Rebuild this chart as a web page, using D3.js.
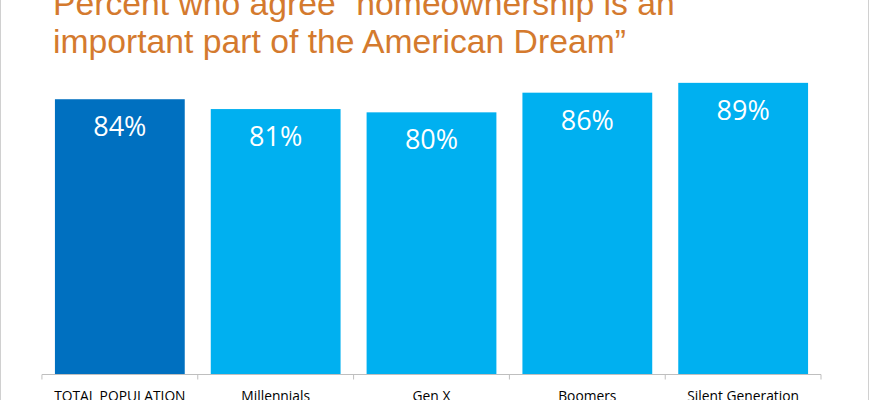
<!DOCTYPE html>
<html>
<head>
<meta charset="utf-8">
<script src="https://cdn.jsdelivr.net/npm/d3@7"></script>
<style>
    body { margin: 0; background: #fff; }
    svg { display: block; }
</style>
</head>
<body>
<div id="draw"><svg></svg></div>
<script>
var w = 870;    // svg宽
var h = 400;    // svg高

var titleLines = ["Percent who agree \u201chomeownership is an", "important part of the American Dream\u201d"];
var categories = ["TOTAL POPULATION", "Millennials", "Gen X", "Boomers", "Silent Generation"];
var values = [84, 81, 80, 86, 89];
var valueLabels = ["84%", "81%", "80%", "86%", "89%"];
var barColors = ["#0070c0", "#00b0f0", "#00b0f0", "#00b0f0", "#00b0f0"];

var svg = d3.select("#draw svg")
    .attr("width", w)
    .attr("height", h);

// 标题
svg.selectAll("text.title")
    .data(titleLines)
    .enter()
    .append("text")
    .attr("class", "title")
    .attr("x", 53)
    .attr("y", function(d, i) { return 15 + i * 38; })
    .attr("font-family", "'Liberation Sans', Arial, sans-serif")
    .attr("font-size", "33.7px")
    .attr("fill", "#d47a2e")
    .text(function(d) { return d; });

// 比例尺
var x = d3.scaleBand()
    .domain(categories)
    .range([42, 821])
    .paddingInner(0.167)
    .paddingOuter(0.083);

var y = d3.scaleLinear()
    .domain([0, 100])
    .range([374.5, 46.8]);

var data = categories.map(function(c, i) {
    return { cat: c, val: values[i], label: valueLabels[i], color: barColors[i] };
});

// 柱子
svg.selectAll("rect.bar")
    .data(data)
    .enter()
    .append("rect")
    .attr("class", "bar")
    .attr("x", function(d) { return x(d.cat); })
    .attr("y", function(d) { return y(d.val); })
    .attr("width", x.bandwidth())
    .attr("height", function(d) { return y(0) - y(d.val); })
    .attr("fill", function(d) { return d.color; });

// 数值标签
svg.selectAll("text.val")
    .data(data)
    .enter()
    .append("text")
    .attr("class", "val")
    .attr("x", function(d) { return x(d.cat) + x.bandwidth() / 2; })
    .attr("y", function(d) { return y(d.val) + 37; })
    .attr("text-anchor", "middle")
    .attr("font-family", "'Open Sans', sans-serif")
    .attr("font-size", "27px")
    .attr("fill", "#ffffff")
    .text(function(d) { return d.label; });

// x轴
var axis = svg.append("g")
    .attr("transform", "translate(0," + y(0) + ")");
axis.append("line")
    .attr("x1", x.range()[0])
    .attr("x2", x.range()[1])
    .attr("stroke", "#bfbfbf")
    .attr("stroke-width", 1);
var tickPos = categories.map(function(c) { return x(c) - x.step() * x.paddingInner() / 2; })
    .concat([x.range()[1]]);
axis.selectAll("line.tick")
    .data(tickPos)
    .enter()
    .append("line")
    .attr("class", "tick")
    .attr("x1", function(d) { return d; })
    .attr("x2", function(d) { return d; })
    .attr("y1", 0)
    .attr("y2", 5)
    .attr("stroke", "#bfbfbf")
    .attr("stroke-width", 1);
axis.selectAll("text")
    .data(categories)
    .enter()
    .append("text")
    .attr("x", function(d) { return x(d) + x.bandwidth() / 2; })
    .attr("y", 26.5)
    .attr("text-anchor", "middle")
    .attr("font-family", "'Open Sans', sans-serif")
    .attr("font-size", "13.8px")
    .attr("fill", "#000000")
    .text(function(d) { return d; });

// 边框
svg.append("line")
    .attr("x1", 0.5).attr("x2", 0.5).attr("y1", 0).attr("y2", h)
    .attr("stroke", "#d0d0d0");
svg.append("line")
    .attr("x1", w - 1.5).attr("x2", w - 1.5).attr("y1", 0).attr("y2", h)
    .attr("stroke", "#d0d0d0");
</script>
</body>
</html>
